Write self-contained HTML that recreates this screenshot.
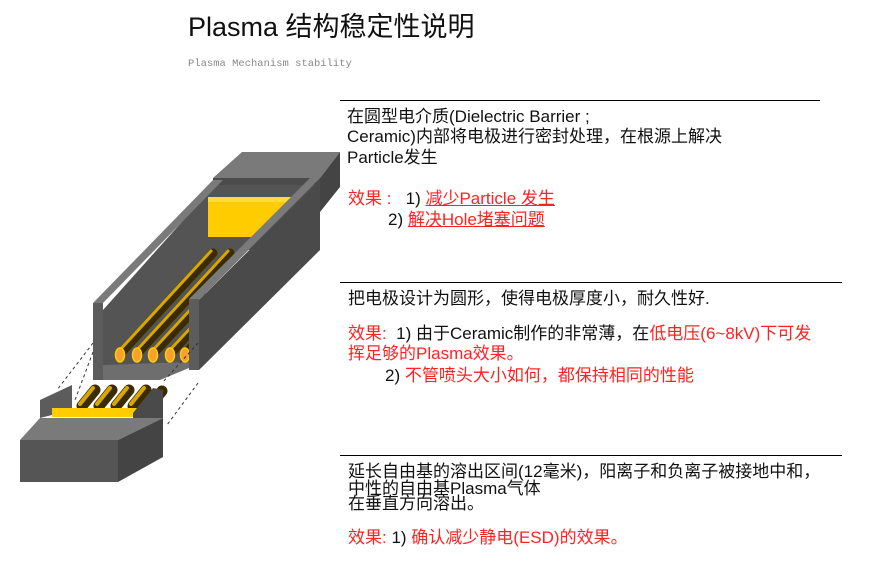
<!DOCTYPE html>
<html><head><meta charset="utf-8"><style>
html,body{margin:0;padding:0;background:#fff;width:876px;height:577px;overflow:hidden;position:relative}
.t{position:absolute;font-family:"Liberation Sans","Noto Sans CJK SC",sans-serif;font-size:17px;color:#111;white-space:nowrap;line-height:20px}
.r{color:#f22}
.u{text-decoration:underline}
.hr{position:absolute;height:1px;background:#000}
</style></head><body>
<div class="t" style="left:188px;top:11px;font-size:27px;line-height:32px;color:#111">Plasma 结构稳定性说明</div>
<div class="t" style="left:188px;top:54px;font-family:'Liberation Mono',monospace;font-size:10.5px;color:#888">Plasma Mechanism stability</div>

<div class="hr" style="left:340px;top:100px;width:480px"></div>
<div class="hr" style="left:340px;top:282px;width:502px"></div>
<div class="hr" style="left:340px;top:455px;width:502px"></div>

<div class="t" style="left:347px;top:107px">在圆型电介质(Dielectric Barrier ;</div>
<div class="t" style="left:347px;top:127px">Ceramic)内部将电极进行密封处理，在根源上解决</div>
<div class="t" style="left:347px;top:148px">Particle发生</div>
<div class="t" style="left:348px;top:189px"><span class="r">效果 :</span>&nbsp;&nbsp;&nbsp;1) <span class="r u">减少Particle 发生</span></div>
<div class="t" style="left:388px;top:210px">2) <span class="r u">解决Hole堵塞问题</span></div>

<div class="t" style="left:348px;top:289px">把电极设计为圆形，使得电极厚度小，耐久性好.</div>
<div class="t" style="left:348px;top:324px"><span class="r">效果:</span>&nbsp;&nbsp;1) 由于Ceramic制作的非常薄，在<span class="r">低电压(6~8kV)下可发</span></div>
<div class="t r" style="left:348px;top:344px">挥足够的Plasma效果。</div>
<div class="t" style="left:385px;top:366px">2) <span class="r">不管喷头大小如何，都保持相同的性能</span></div>

<div class="t" style="left:348px;top:462px">延长自由基的溶出区间(12毫米)，阳离子和负离子被接地中和，</div>
<div class="t" style="left:348px;top:479px">中性的自由基Plasma气体</div>
<div class="t" style="left:348px;top:494px">在垂直方向溶出。</div>
<div class="t" style="left:348px;top:528px"><span class="r">效果:</span>&nbsp;1) <span class="r">确认减少静电(ESD)的效果。</span></div>

<svg width="876" height="577" style="position:absolute;left:0;top:0" xmlns="http://www.w3.org/2000/svg">
<polygon points="213,178 242,152 340,152 320,178" fill="#7a7a7a"/>
<polygon points="320,178 340,152 340,187 320,212" fill="#444"/>
<polygon points="213,178 320,178 320,250 213,250" fill="#4b4b4b"/>
<polygon points="103,310 215,185 320,185 189,300 189,368 103,375" fill="#545454"/>
<polygon points="103,365 189,362 189,368 160,380 103,380" fill="#6e6e6e"/>
<polygon points="208,197 293,197 255,237 208,237" fill="#ffcc00"/>
<polygon points="208,197 293,197 288,202 208,202" fill="#ffd940"/>
<g stroke-linecap="round">
<line x1="120" y1="354" x2="213" y2="253" stroke="#3a2c00" stroke-width="9"/>
<line x1="137" y1="354" x2="230" y2="253" stroke="#3a2c00" stroke-width="9"/>
<line x1="153" y1="354" x2="205" y2="298" stroke="#3a2c00" stroke-width="9"/>
<line x1="170" y1="354" x2="198" y2="324" stroke="#3a2c00" stroke-width="9"/>
<line x1="185" y1="354" x2="195" y2="343" stroke="#3a2c00" stroke-width="9"/>
<line x1="118" y1="352" x2="211" y2="251" stroke="#d8a800" stroke-width="3"/>
<line x1="135" y1="352" x2="228" y2="251" stroke="#d8a800" stroke-width="3"/>
<line x1="151" y1="352" x2="203" y2="296" stroke="#d8a800" stroke-width="3"/>
<line x1="168" y1="352" x2="196" y2="322" stroke="#d8a800" stroke-width="3"/>
</g>
<g fill="#f7a030" stroke="#ffcc00" stroke-width="1.5">
<ellipse cx="120" cy="355" rx="4.5" ry="7"/><ellipse cx="137" cy="355" rx="4.5" ry="7"/><ellipse cx="153" cy="355" rx="4.5" ry="7"/><ellipse cx="170" cy="355" rx="4.5" ry="7"/><ellipse cx="185" cy="355" rx="4.5" ry="7"/>
</g>
<polygon points="93,303 213,180 223,180 103,303" fill="#7a7a7a"/>
<rect x="93" y="303" width="10" height="77" fill="#5c5c5c"/>
<polygon points="199,300 320,180 320,250 199,370" fill="#4a4a4a"/>
<polygon points="189,299 310,178 320,178 199,300" fill="#7a7a7a"/>
<rect x="189" y="299" width="10" height="71" fill="#5c5c5c"/>
<g stroke="#333" stroke-dasharray="3,3" stroke-width="1">
<line x1="93" y1="343" x2="57" y2="390"/><line x1="93" y1="352" x2="75" y2="400"/>
<line x1="198" y1="343" x2="163" y2="382"/><line x1="198" y1="383" x2="167" y2="425"/>
</g>
<polygon points="40,400 72,385 72,410 40,418" fill="#5c5c5c"/>
<g stroke-linecap="round">
<line x1="82" y1="406" x2="95" y2="390" stroke="#3a2c00" stroke-width="11"/>
<line x1="99" y1="406" x2="112" y2="390" stroke="#3a2c00" stroke-width="11"/>
<line x1="116" y1="406" x2="129" y2="390" stroke="#3a2c00" stroke-width="11"/>
<line x1="133" y1="406" x2="146" y2="390" stroke="#3a2c00" stroke-width="11"/>
<line x1="150" y1="406" x2="162" y2="391" stroke="#3a2c00" stroke-width="11"/>
<line x1="80" y1="404" x2="93" y2="388" stroke="#d8a800" stroke-width="4"/>
<line x1="97" y1="404" x2="110" y2="388" stroke="#d8a800" stroke-width="4"/>
<line x1="114" y1="404" x2="127" y2="388" stroke="#d8a800" stroke-width="4"/>
<line x1="131" y1="404" x2="144" y2="388" stroke="#d8a800" stroke-width="4"/>
</g>
<rect x="52" y="408" width="88" height="9" fill="#ffcc00"/>
<polygon points="133,413 153,388 163,390 163,418 133,418" fill="#4a4a4a"/>
<polygon points="20,440 40,418 163,418 118,440" fill="#7a7a7a"/>
<polygon points="118,440 163,418 163,457 118,482" fill="#444"/>
<rect x="20" y="440" width="98" height="42" fill="#555"/>
</svg>
</body></html>
